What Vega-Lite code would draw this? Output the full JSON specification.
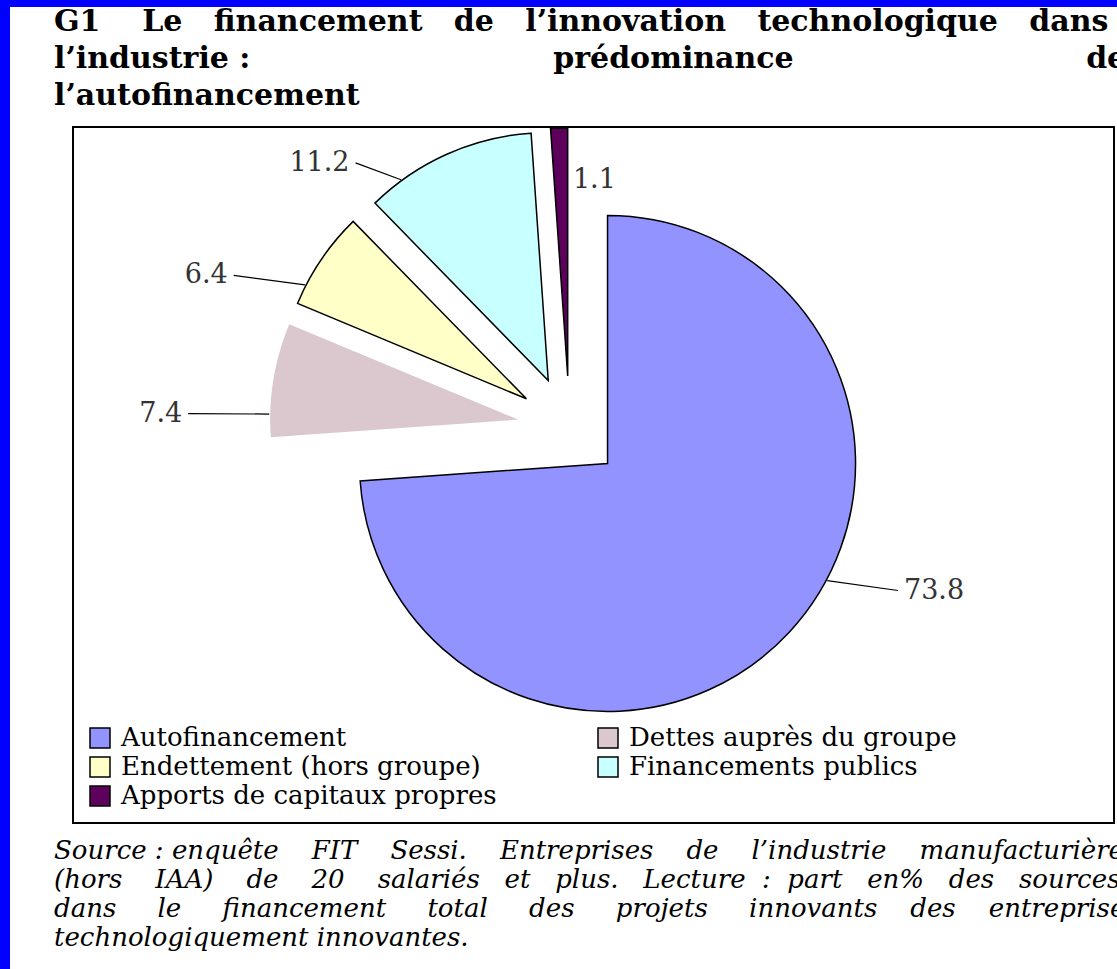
{
  "$schema": "https://vega.github.io/schema/vega-lite/v6.json",
  "width": 1107,
  "height": 962,
  "autosize": {"type": "none"},
  "padding": {"left": 10, "top": 7, "right": 0, "bottom": 0},
  "background": "#0000FF",
  "view": {"fill": "white", "stroke": null},
  "config": {
    "view": {"fill": "white", "stroke": null},
    "font": "DejaVu Serif",
    "legend": {"strokeWidth": 2}
  },
  "title": {
    "text": [
      "G1 \u00a0\u00a0\u00a0Le \u00a0\u00a0financement \u00a0\u00a0de \u00a0\u00a0l’innovation \u00a0\u00a0technologique \u00a0\u00a0dans",
      "l’industrie :\u00a0\u00a0\u00a0\u00a0\u00a0\u00a0\u00a0\u00a0\u00a0\u00a0\u00a0\u00a0\u00a0\u00a0\u00a0\u00a0\u00a0\u00a0\u00a0\u00a0\u00a0\u00a0\u00a0\u00a0\u00a0\u00a0\u00a0\u00a0\u00a0prédominance\u00a0\u00a0\u00a0\u00a0\u00a0\u00a0\u00a0\u00a0\u00a0\u00a0\u00a0\u00a0\u00a0\u00a0\u00a0\u00a0\u00a0\u00a0\u00a0\u00a0\u00a0\u00a0\u00a0\u00a0\u00a0\u00a0\u00a0\u00a0de",
      "l’autofinancement"
    ],
    "subtitle": [
      "Source : enquête \u00a0\u00a0\u00a0FIT \u00a0\u00a0\u00a0Sessi. \u00a0\u00a0\u00a0Entreprises \u00a0\u00a0\u00a0de \u00a0\u00a0\u00a0l’industrie \u00a0\u00a0\u00a0manufacturière",
      "(hors \u00a0\u00a0\u00a0IAA) \u00a0\u00a0\u00a0de \u00a0\u00a0\u00a020 \u00a0\u00a0\u00a0salariés \u00a0\u00a0et \u00a0\u00a0plus. \u00a0\u00a0Lecture \u00a0: \u00a0part \u00a0\u00a0en% \u00a0\u00a0des \u00a0\u00a0sources",
      "dans \u00a0\u00a0\u00a0\u00a0le \u00a0\u00a0\u00a0\u00a0financement \u00a0\u00a0\u00a0\u00a0total \u00a0\u00a0\u00a0\u00a0des \u00a0\u00a0\u00a0\u00a0projets \u00a0\u00a0\u00a0\u00a0innovants \u00a0\u00a0\u00a0des \u00a0\u00a0\u00a0entreprises",
      "technologiquement innovantes."
    ],
    "orient": "bottom",
    "anchor": "start",
    "frame": "group",
    "offset": -962,
    "baseline": "top",
    "dx": 44,
    "limit": 3000,
    "font": "DejaVu Serif",
    "fontSize": 30,
    "fontWeight": "bold",
    "color": "black",
    "lineHeight": 37,
    "subtitleFont": "DejaVu Serif",
    "subtitleFontSize": 26,
    "subtitleFontStyle": "italic",
    "subtitleColor": "black",
    "subtitleLineHeight": 29,
    "subtitlePadding": 727
  },
  "data": {
    "values": [
      {"idx": 1, "label": "Autofinancement", "value": 73.8},
      {"idx": 2, "label": "Dettes auprès du groupe", "value": 7.4},
      {"idx": 3, "label": "Endettement (hors groupe)", "value": 6.4},
      {"idx": 4, "label": "Financements publics", "value": 11.2},
      {"idx": 5, "label": "Apports de capitaux propres", "value": 1.1}
    ]
  },
  "transform": [
    {"joinaggregate": [{"op": "sum", "field": "value", "as": "total"}]},
    {"stack": "value", "groupby": [], "sort": [{"field": "idx", "order": "ascending"}], "as": ["v0", "v1"]}
  ],
  "layer": [
    {
      "mark": {
        "type": "arc",
        "radius": 248,
        "stroke": "black",
        "strokeWidth": 1.5,
        "x": {"expr": "width/2 + 6 + 52*sin(PI*(datum.v0+datum.v1)/datum.total)"},
        "y": {"expr": "height/2 - 60 - 52*cos(PI*(datum.v0+datum.v1)/datum.total)"}
      },
      "encoding": {
        "theta": {"field": "value", "type": "quantitative", "stack": true},
        "order": {"field": "idx", "type": "quantitative"},
        "color": {
          "field": "label",
          "type": "nominal",
          "scale": {
            "domain": ["Autofinancement", "Dettes auprès du groupe", "Endettement (hors groupe)", "Financements publics", "Apports de capitaux propres"],
            "range": ["#9393FF", "#DAC8CE", "#FFFFC8", "#C8FFFF", "#5C005C"]
          },
          "legend": {
            "title": "\u2800\u2800\u2800\u2800\u2800\u2800\u2800\u2800\u2800\u2800\u2800\u2800\u2800\u2800\u2800\u2800\u2800\u2800\u2800\u2800\u2800\u2800\u2800\u2800\u2800\u2800\u2800\u2800\u2800\u2800\u2800\u2800\u2800\u2800\u2800\u2800\u2800\u2800\u2800\u2800\u2800\u2800\u2800\u2800\u2800\u2800\u2800\u2800\u2800\u2800\u2800\u2800\u2800\u2800\u2800\u2800\u2800\u2800\u2800\u2800\u2800\u2800\u2800\u2800\u2800\u2800\u2800\u2800\u2800\u2800\u2800\u2800\u2800\u2800\u2800\u2800\u2800\u2800\u2800\u2800\u2800\u2800\u2800\u2800\u2800\u2800\u2800\u2800\u2800\u2800\u2800\u2800\u2800\u2800\u2800\u2800\u2800\u2800\u2800\u2800\u2800\u2800\u2800\u2800\u2800\u2800\u2800\u2800\u2800\u2800\u2800\u2800\u2800\u2800\u2800\u2800\u2800\u2800\u2800\u2800\u2800\u2800\u2800\u2800\u2800\u2800\u2800\u2800\u2800\u2800\u2800\u2800\u2800\u2800\u2800\u2800\u2800\u2800\u2800\u2800\u2800\u2800\u2800\u2800\u2800\u2800\u2800\u2800\u2800\u2800\u2800\u2800\u2800\u2800\u2800\u2800\u2800\u2800\u2800\u2800\u2800\u2800\u2800\u2800\u2800\u2800\u2800\u2800\u2800\u2800\u2800\u2800\u2800\u2800\u2800\u2800\u2800\u2800\u2800\u2800\u2800\u2800\u2800\u2800\u2800\u2800\u2800\u2800\u2800\u2800\u2800\u2800\u2800\u2800\u2800\u2800\u2800\u2800\u2800\u2800\u2800\u2800\u2800\u2800\u2800\u2800\u2800\u2800\u2800\u2800\u2800\u2800\u2800\u2800\u2800\u2800",
            "titleFont": "DejaVu Serif",
            "titleFontSize": 6,
            "titleLimit": 5000,
            "titlePadding": 578,
            "orient": "none",
            "legendX": 63,
            "legendY": 120,
            "direction": "horizontal",
            "columns": 2,
            "columnPadding": 98,
            "rowPadding": 3,
            "padding": 14,
            "strokeColor": "black",
            "symbolType": "square",
            "symbolSize": 400,
            "symbolStrokeColor": "black",
            "symbolStrokeWidth": 1.5,
            "labelFont": "DejaVu Serif",
            "labelFontSize": 26,
            "labelColor": "black",
            "labelLimit": 1000,
            "labelOffset": 8
          }
        },
        "strokeOpacity": {
          "condition": {"test": "datum.label === 'Dettes auprès du groupe'", "value": 0},
          "value": 1
        }
      }
    },
    {
      "transform": [{"filter": "datum.value >= 2"}],
      "mark": {"type": "rule", "color": "black", "strokeWidth": 1.2},
      "encoding": {
        "x": {"value": {"expr": "width/2 + 6 + 52*sin(PI*(datum.v0+datum.v1)/datum.total) + 336*sin(PI*(datum.v0+datum.v1)/datum.total - min(0.6*PI*(datum.v1-datum.v0)/datum.total, 0.26)) + (sin(PI*(datum.v0+datum.v1)/datum.total) > 0 ? -6 : 6)"}},
        "y": {"value": {"expr": "height/2 - 60 - 52*cos(PI*(datum.v0+datum.v1)/datum.total) - 270*cos(PI*(datum.v0+datum.v1)/datum.total - min(0.6*PI*(datum.v1-datum.v0)/datum.total, 0.26))"}},
        "x2": {"value": {"expr": "width/2 + 6 + 52*sin(PI*(datum.v0+datum.v1)/datum.total) + 249*sin(PI*(datum.v0+datum.v1)/datum.total - min(0.6*PI*(datum.v1-datum.v0)/datum.total, 0.26))"}},
        "y2": {"value": {"expr": "height/2 - 60 - 52*cos(PI*(datum.v0+datum.v1)/datum.total) - 249*cos(PI*(datum.v0+datum.v1)/datum.total - min(0.6*PI*(datum.v1-datum.v0)/datum.total, 0.26))"}}
      }
    },
    {
      "mark": {
        "type": "text",
        "font": "DejaVu Serif",
        "fontSize": 27,
        "color": "#333333",
        "baseline": "middle",
        "x": {"expr": "width/2 + 6 + 52*sin(PI*(datum.v0+datum.v1)/datum.total) + (datum.value < 2 ? 196*sin(PI*(datum.v0+datum.v1)/datum.total) + 12 : 336*sin(PI*(datum.v0+datum.v1)/datum.total - min(0.6*PI*(datum.v1-datum.v0)/datum.total, 0.26)))"},
        "y": {"expr": "height/2 - 60 - 52*cos(PI*(datum.v0+datum.v1)/datum.total) - (datum.value < 2 ? 196*cos(PI*(datum.v0+datum.v1)/datum.total) : 270*cos(PI*(datum.v0+datum.v1)/datum.total - min(0.6*PI*(datum.v1-datum.v0)/datum.total, 0.26)))"},
        "align": {"expr": "(datum.value < 2 || sin(PI*(datum.v0+datum.v1)/datum.total) > 0) ? 'left' : 'right'"}
      },
      "encoding": {
        "text": {"field": "value", "type": "quantitative", "format": ".1f"}
      }
    }
  ]
}
